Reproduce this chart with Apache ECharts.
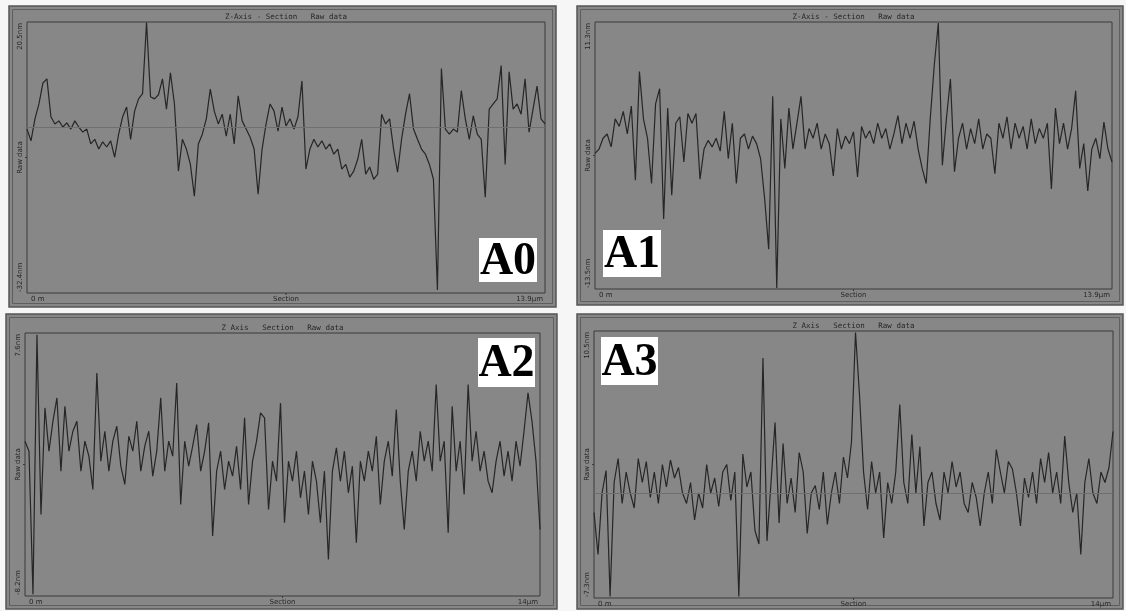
<!DOCTYPE html>
<html>
<head>
<meta charset="utf-8">
<script src="https://cdn.jsdelivr.net/npm/echarts@6/dist/echarts.min.js"></script>
<style>
html,body{margin:0;padding:0;background:#f6f6f6;}
#chart{width:1126px;height:611px;}
</style>
</head>
<body>
<div id="chart"></div>
<script>
// panel texts
const panelTags = ['A0', 'A1', 'A2', 'A3'];
const panelTitles = ['Z-Axis - Section   Raw data', 'Z-Axis - Section   Raw data', 'Z Axis   Section   Raw data', 'Z Axis   Section   Raw data'];
const yTopLabels = ['20.5nm', '11.3nm', '7.6nm', '10.5nm'];
const yBottomLabels = ['-32.4nm', '-13.5nm', '-8.2nm', '-7.3nm'];
const yNames = ['Raw data', 'Raw data', 'Raw data', 'Raw data'];
const xStartLabels = ['0 m', '0 m', '0 m', '0 m'];
const xNames = ['Section', 'Section', 'Section', 'Section'];
const xEndLabels = ['13.9\u00b5m', '13.9\u00b5m', '14\u00b5m', '14\u00b5m'];
const yMax = [20.5, 11.3, 7.6, 10.5];
const yMin = [-32.4, -13.5, -8.2, -7.3];
const refLines = [0, null, null, -0.3];

// profiles, nm
const a0 = [-0.4,-2.7,1.6,4.5,8.6,9.4,2.0,0.6,1.2,0,0.8,-0.4,1.2,0,-1.0,-0.4,-3.3,-2.4,-4.3,-2.9,-3.9,-2.7,-5.9,-1.4,2.0,3.9,-2.4,3.1,5.5,6.5,20.4,5.9,5.5,6.3,9.4,3.5,10.6,4.5,-8.6,-2.4,-4.3,-7.3,-13.5,-3.3,-1.4,1.6,7.4,3.1,0.6,2.5,-1.8,2.5,-3.3,6.1,1.2,-0.4,-2.0,-4.3,-13.1,-4.3,0.6,4.5,3.1,-0.8,3.9,0.2,1.6,-0.4,2.0,9.0,-8.2,-4.3,-2.4,-3.9,-2.7,-4.3,-3.3,-5.3,-4.3,-8.2,-7.3,-9.8,-8.6,-6.3,-2.4,-9.2,-7.8,-10.2,-9.2,2.5,0.6,1.6,-4.3,-8.8,-2.4,2.5,6.5,-0.4,-2.4,-4.3,-5.3,-7.3,-10.2,-31.8,11.4,-0.4,-1.4,-0.4,-1.0,7.1,1.6,-2.4,2.2,-1.4,-2.4,-13.7,3.5,4.5,5.5,12.0,-7.3,10.8,3.5,4.5,2.5,9.4,-1.0,3.5,8.0,1.6,0.6];
const a1 = [-0.9,-0.5,0.5,0.9,-0.3,2.3,1.6,3.0,0.9,3.5,-3.4,6.7,2.3,0.5,-3.7,3.7,5.1,-7.0,3.3,-4.8,1.9,2.5,-1.7,2.8,1.9,2.8,-3.3,-0.5,0.3,-0.3,0.5,-0.7,3.0,-1.4,1.9,-3.7,0.5,0.9,-0.5,0.7,0,-1.4,-5.1,-9.8,4.4,-13.4,2.3,-2.3,3.3,-0.5,1.9,4.4,-0.5,1.4,0.5,1.9,-0.5,0.9,0,-3.0,1.4,-0.5,0.7,0,1.1,-3.1,1.6,0.5,1.2,0,1.9,0.5,1.4,-0.5,0.9,2.6,0,1.9,0.5,2.1,-0.5,-2.3,-3.7,2.3,7.3,11.2,-2.0,2.3,6.0,-2.6,0.5,1.9,-0.5,1.4,0,2.3,-0.5,0.9,0.5,-2.8,1.9,0.5,2.5,-0.5,1.9,0.5,1.6,-0.5,2.3,0,1.4,0.5,1.9,-4.2,3.3,0,1.9,-0.5,1.4,4.9,-2.3,0,-4.4,-0.5,0.5,-1.4,2.0,-0.5,-1.7];
const a2 = [1.1,0.5,-8.1,7.5,-3.3,3.1,0.5,2.3,3.7,-0.7,3.2,0.5,1.7,2.3,-0.7,1.1,0.2,-1.8,5.2,-0.1,1.7,-0.7,1.1,2.0,-0.4,-1.5,1.4,0.5,2.3,-0.7,0.8,1.7,-1.0,0.5,3.7,-0.7,1.1,0.2,4.6,-2.7,1.1,-0.4,0.8,2.1,-0.7,0.5,2.2,-4.6,-0.7,0.5,-1.8,-0.1,-1.0,0.8,-1.8,2.5,-2.7,-0.1,1.1,2.8,2.5,-3.0,-0.1,-1.3,3.4,-3.8,-0.1,-1.3,0.5,-2.3,-0.7,-3.3,-0.1,-1.3,-3.8,-0.7,-6.0,-0.7,0.7,-1.3,0.5,-2.0,-0.4,-5.0,-0.1,-1.3,0.5,-0.7,1.4,-2.7,-0.1,1.1,-1.0,3.0,-1.3,-4.2,-0.7,0.5,-1.3,1.7,-0.1,1.1,-0.7,4.5,-0.1,1.1,-4.4,3.2,-0.7,1.1,-2.1,4.5,-0.1,1.7,-0.7,0.5,-1.3,-2.0,-0.1,1.1,-1.0,0.5,-1.3,1.1,-0.4,1.7,4.0,2.3,-0.1,-4.2];
const a3 = [-1.6,-4.4,-0.3,1.2,-7.2,0.4,2.0,-1.0,1.1,-0.3,-1.3,2.0,0.4,1.8,-0.6,1.1,-1.0,1.6,0.1,1.9,0.7,1.4,-0.3,-1.0,0.4,-2.1,-0.3,-1.3,1.6,-0.3,0.7,-1.2,1.1,1.6,-0.8,1.1,-7.2,2.3,0.1,1.1,-2.8,-3.7,8.7,-3.5,0.4,4.4,-2.3,3.0,-1.0,0.7,-1.6,2.4,1.1,-3.0,-0.3,0.2,-1.4,1.1,-2.4,-0.3,1.1,-1.0,2.1,0.7,3.1,10.4,6.2,1.1,-1.4,1.8,-0.3,1.1,-3.3,0.4,-1.0,1.1,5.6,0.4,-1.0,3.6,-0.3,2.8,-2.5,0.4,1.1,-1.0,-2.1,1.1,-0.3,1.8,0.1,1.1,-1.0,-1.6,0.4,-0.6,-2.5,-0.3,1.1,-1.0,2.6,1.1,-0.3,1.8,1.3,-0.3,-2.5,0.7,-0.6,1.1,-1.0,2.0,0.4,2.4,-0.3,1.1,-1.0,3.5,0.4,-1.6,-0.3,-4.4,0.4,2.0,-0.3,-1.0,1.1,0.4,1.4,3.8];
const profiles = [a0, a1, a2, a3];

// layout: panel frames and plot areas [x, y, w, h]
const frames = [[9, 6, 547, 301], [577, 6, 546, 299], [6, 314, 551, 295], [577, 314, 546, 295]];
const plots = [[27, 22, 518, 271], [595, 22, 517, 267], [25, 333, 515, 263], [594, 331, 519, 267]];
const tagBoxes = [[479, 238, 58, 44], [603, 230, 58, 47], [478, 338, 57, 49], [601, 337, 57, 48]];

const panelGray = '#878787';
const inkColor = '#262626';
const smallFont = '7px "DejaVu Sans"';

let grid = [], xAxis = [], yAxis = [], series = [], elements = [];

for (let i = 0; i < 4; i++) {
    const p = plots[i], f = frames[i], t = tagBoxes[i];
    grid.push({
        left: p[0], top: p[1], width: p[2], height: p[3],
        show: true, backgroundColor: 'transparent',
        borderColor: '#3a3a3a', borderWidth: 1, z: 1
    });
    xAxis.push({
        gridIndex: i, type: 'category', boundaryGap: false,
        data: profiles[i].map((v, k) => k),
        axisLine: {show: false}, axisTick: {show: false},
        axisLabel: {show: false}, splitLine: {show: false}
    });
    yAxis.push({
        gridIndex: i, type: 'value', min: yMin[i], max: yMax[i],
        axisLine: {show: false}, axisTick: {show: false},
        axisLabel: {show: false}, splitLine: {show: false}
    });
    let s = {
        type: 'line', xAxisIndex: i, yAxisIndex: i,
        data: profiles[i], showSymbol: false, symbol: 'none',
        lineStyle: {color: inkColor, width: 1.2},
        animation: false, z: 3
    };
    if (refLines[i] !== null) {
        s.markLine = {
            silent: true, symbol: 'none', label: {show: false},
            lineStyle: {color: '#6f6f6f', width: 1, type: 'solid'},
            data: [{yAxis: refLines[i]}]
        };
    }
    series.push(s);

    // panel frame
    elements.push({
        type: 'rect', z: -5,
        shape: {x: f[0], y: f[1], width: f[2], height: f[3]},
        style: {fill: panelGray, stroke: '#555', lineWidth: 1.5}
    });
    elements.push({
        type: 'rect', z: -4,
        shape: {x: f[0] + 3.5, y: f[1] + 3.5, width: f[2] - 7, height: f[3] - 7},
        style: {fill: 'none', stroke: '#5e5e5e', lineWidth: 1}
    });
    // title
    elements.push({
        type: 'text', z: 50,
        style: {text: panelTitles[i], x: p[0] + p[2] / 2, y: p[1] - 5,
            fill: inkColor, font: '7.5px "DejaVu Sans Mono"', textAlign: 'center', textVerticalAlign: 'middle'}
    });
    // y labels
    const yx = p[0] - 7;
    elements.push({
        type: 'text', z: 50, x: yx, y: p[1] + 1, rotation: Math.PI / 2,
        style: {text: yTopLabels[i], x: 0, y: 0, fill: inkColor, font: smallFont, textAlign: 'right', textVerticalAlign: 'middle'}
    });
    elements.push({
        type: 'text', z: 50, x: yx, y: p[1] + p[3] / 2, rotation: Math.PI / 2,
        style: {text: yNames[i], x: 0, y: 0, fill: inkColor, font: smallFont, textAlign: 'center', textVerticalAlign: 'middle'}
    });
    elements.push({
        type: 'text', z: 50, x: yx, y: p[1] + p[3] - 1, rotation: Math.PI / 2,
        style: {text: yBottomLabels[i], x: 0, y: 0, fill: inkColor, font: smallFont, textAlign: 'left', textVerticalAlign: 'middle'}
    });
    // x labels
    const xy = p[1] + p[3] + 6;
    elements.push({
        type: 'text', z: 50,
        style: {text: xStartLabels[i], x: p[0] + 4, y: xy, fill: inkColor, font: smallFont, textAlign: 'left', textVerticalAlign: 'middle'}
    });
    elements.push({
        type: 'text', z: 50,
        style: {text: xNames[i], x: p[0] + p[2] / 2, y: xy, fill: inkColor, font: smallFont, textAlign: 'center', textVerticalAlign: 'middle'}
    });
    elements.push({
        type: 'text', z: 50,
        style: {text: xEndLabels[i], x: p[0] + p[2] - 2, y: xy, fill: inkColor, font: smallFont, textAlign: 'right', textVerticalAlign: 'middle'}
    });
    // middle ticks
    elements.push({
        type: 'line', z: 50,
        shape: {x1: p[0] + p[2] / 2, y1: p[1] + p[3], x2: p[0] + p[2] / 2, y2: p[1] + p[3] + 2},
        style: {stroke: '#3a3a3a', lineWidth: 1}
    });
    elements.push({
        type: 'line', z: 50,
        shape: {x1: p[0] - 2, y1: p[1] + p[3] / 2, x2: p[0], y2: p[1] + p[3] / 2},
        style: {stroke: '#3a3a3a', lineWidth: 1}
    });
    // tag box
    elements.push({
        type: 'rect', z: 60,
        shape: {x: t[0], y: t[1], width: t[2], height: t[3]},
        style: {fill: '#ffffff', stroke: 'none'}
    });
    elements.push({
        type: 'text', z: 61,
        style: {text: panelTags[i], x: t[0] + t[2] / 2, y: t[1] + t[3] / 2 + 2,
            fill: '#000', font: 'bold 46px "Liberation Serif"', textAlign: 'center', textVerticalAlign: 'middle'}
    });
}

let chart = echarts.init(document.getElementById('chart'));
chart.setOption({
    backgroundColor: '#f6f6f6',
    animation: false,
    grid: grid,
    xAxis: xAxis,
    yAxis: yAxis,
    series: series,
    graphic: {elements: elements}
});
</script>
</body>
</html>
